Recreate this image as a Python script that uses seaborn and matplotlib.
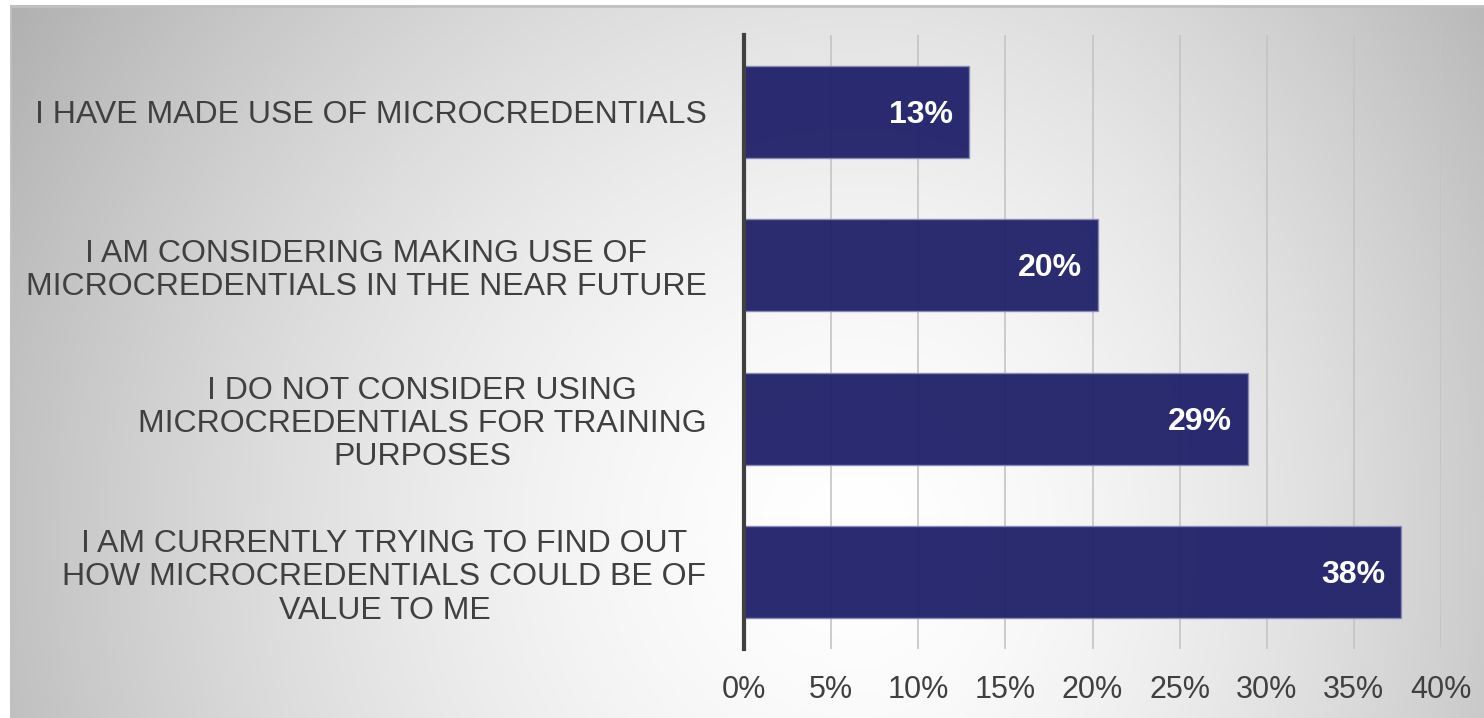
import numpy as np
import pandas as pd
import seaborn as sns
import matplotlib.pyplot as plt

# Survey answers and shares (%)
answers = [
    "I HAVE MADE USE OF MICROCREDENTIALS",
    "I AM CONSIDERING MAKING USE OF\nMICROCREDENTIALS IN THE NEAR FUTURE",
    "I DO NOT CONSIDER USING\nMICROCREDENTIALS FOR TRAINING\nPURPOSES",
    "I AM CURRENTLY TRYING TO FIND OUT\nHOW MICROCREDENTIALS COULD BE OF\nVALUE TO ME",
]
shares = [12.9, 20.3, 28.9, 37.7]
xticks = [0, 5, 10, 15, 20, 25, 30, 35, 40]

df = pd.DataFrame({"answer": answers, "share": shares})

sns.set_theme(style="white")
plt.rcParams["font.family"] = ["Liberation Sans", "DejaVu Sans"]

W, H = 1484, 718
fig = plt.figure(figsize=(W / 100, H / 100), dpi=100)
fig.patch.set_facecolor("white")

# radial grey-to-white background like the slide
bg = fig.add_axes([10 / W, 0, 1 - 10 / W, 1 - 5 / H], zorder=0)
xs = np.linspace(10, W, 400)
ys = np.linspace(5, H, 200)
X, Y = np.meshgrid(xs, ys)
cx, cy = 860, 540
rx = np.where(X < cx, 880, 720)
d = np.sqrt(((X - cx) / rx) ** 2 + ((Y - cy) / 880) ** 2)
g = 255 - 64 * np.clip(d, 0, 1.2) ** 1.6
img = np.dstack([g, g, g]) / 255
bg.imshow(np.clip(img, 0, 1), aspect="auto", extent=[10, W, H, 5])
bg.set_axis_off()
bg.plot([10, W], [5.5, 5.5], color="#c0c0c0", lw=2)
bg.plot([10.5, 10.5], [5, H], color="#c0c0c0", lw=2)
bg.set_xlim(10, W)
bg.set_ylim(H, 5)

ax = fig.add_axes([744 / W, 1 - 649 / H, (1441 - 744) / W, (649 - 35) / H], zorder=1)
ax.patch.set_alpha(0)

sns.barplot(data=df, x="share", y="answer", orient="h", color="#24246c",
            saturation=1, width=0.6, alpha=0.97, edgecolor="#8a8ab8",
            linewidth=1, ax=ax, zorder=3)

ax.set_xlim(0, 40)
ax.set_ylim(3.5, -0.5)
ax.set_xticks(xticks)
ax.set_xticklabels([f"{t}%" for t in xticks])
ax.xaxis.grid(True, color="#c4c4c4", lw=1.2, zorder=0)
ax.set_axisbelow(True)
ax.set_xlabel("")
ax.set_ylabel("")

for s in ["top", "right", "bottom"]:
    ax.spines[s].set_visible(False)
ax.spines["left"].set_color("#404040")
ax.spines["left"].set_linewidth(3)
ax.spines["left"].set_zorder(5)

ax.tick_params(axis="x", length=0, pad=19, labelsize=22, labelcolor="#404040")
ax.tick_params(axis="y", length=0, pad=27, labelsize=23, labelcolor="#404040")
for lbl in ax.get_yticklabels():
    lbl.set_multialignment("center")
    lbl.set_linespacing(1.14)
    lbl.set_y(lbl.get_position()[1])

for i, v in enumerate(shares):
    ax.text(v - 0.9, i + 0.02, f"{round(v)}%", ha="right", va="center",
            color="white", fontsize=23, fontweight="bold", zorder=6)

fig.savefig("out.png", dpi=100)
